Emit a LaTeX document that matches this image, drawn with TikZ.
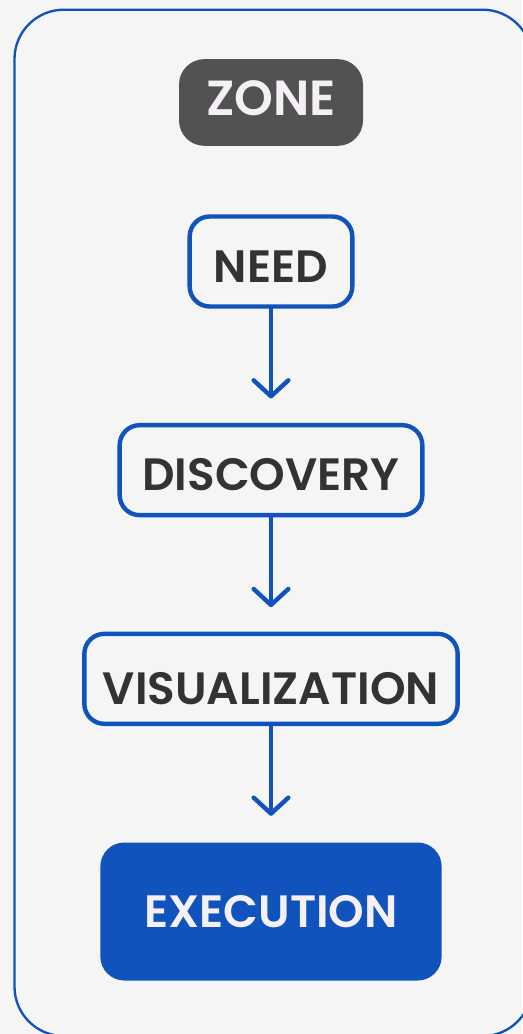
\documentclass[tikz,border=0pt]{standalone}
\usepackage{fontspec}
\setmainfont{Poppins}[BoldFont={Poppins SemiBold}]
\usetikzlibrary{
	positioning,
	arrows.meta
}
\definecolor{zoneblue}{HTML}{1153BC}
\definecolor{zonegrey}{HTML}{525252}
\definecolor{paper}{HTML}{F5F5F5}
\definecolor{ink}{HTML}{333333}
\definecolor{lighttext}{HTML}{F5F0F5}

\tikzset{
	label font/.style={font=\fontsize{34}{40}\selectfont\bfseries},
	stage/.style={draw=zoneblue,line width=3.3pt,rounded corners=15pt,outer sep=0pt,
		fill=paper,text=ink,minimum height=67.5pt,inner sep=0pt,
		text height=31pt,text depth=0pt,label font},
	final/.style={fill=zoneblue,text=lighttext,rounded corners=18pt,outer sep=0pt,
		minimum width=256pt,minimum height=103.5pt,inner sep=0pt,label font},
	tag/.style={fill=zonegrey,text=lighttext,rounded corners=19pt,outer sep=0pt,
		minimum width=138pt,minimum height=65pt,inner sep=0pt,
		text height=26pt,text depth=6.5pt,font=\fontsize{37}{42}\selectfont\bfseries},
	flow/.style={draw=zoneblue,line width=3.3pt,shorten >=20pt,
		-{Straight Barb[length=12pt,width=26pt,line cap=round,line join=round]}}
}

\begin{document}
\begin{tikzpicture}[x=0.75pt,y=-0.75pt,node distance=89pt]
		\fill[paper] (0,0) rectangle (522,1034);
		\useasboundingbox (0,0) rectangle (522,1034);
		\draw[zoneblue,line width=1.75pt,rounded corners=37pt] (14.5,9.7) rectangle (532,1036);

		\draw
			node[tag]                                          (zone)      at (271,102.5) {ZONE}
			node[stage,minimum width=122pt,below=53pt of zone] (need)      {NEED}
			node[stage,minimum width=227pt,below=of need]      (discovery) {DISCOVERY}
			node[stage,minimum width=280pt,below=of discovery,
				text height=39pt]                              (visual)    {VISUALIZATION}
			node[final,below=of visual]                        (execution) {EXECUTION}

			(need)      edge[flow] (discovery)
			(discovery) edge[flow] (visual)
			(visual)    edge[flow] (execution)
		;
	\end{tikzpicture}
\end{document}
